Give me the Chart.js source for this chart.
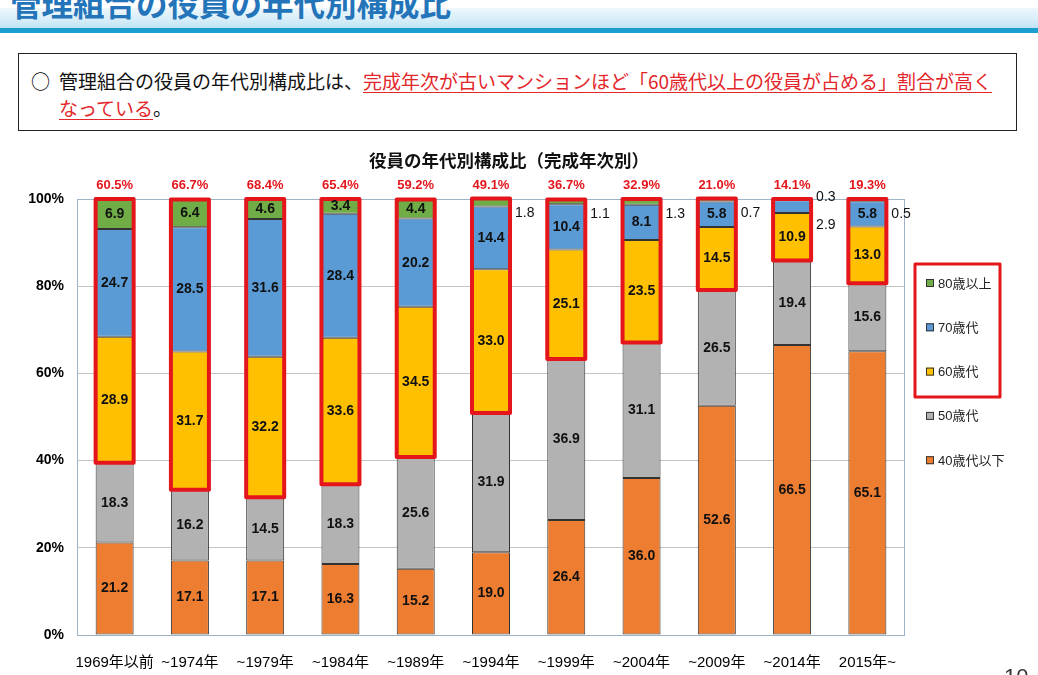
<!DOCTYPE html>
<html lang="ja">
<head>
<meta charset="utf-8">
<title>管理組合の役員の年代別構成比</title>
<script src="https://cdn.jsdelivr.net/npm/chart.js@4.4.1/dist/chart.umd.min.js"></script>
<style>
  html, body { margin: 0; padding: 0; background: #fff; }
  body { width: 1038px; height: 675px; position: relative; overflow: hidden;
         font-family: "Noto Sans CJK JP", "Noto Sans", sans-serif; }
  #band { position: absolute; left: 0; top: 8px; width: 1038px; height: 20px;
          background: linear-gradient(#eef7fc, #d6edf8 60%, #bfe4f4); }
  #bandLine { position: absolute; left: 0; top: 28px; width: 1038px; height: 5px; background: #1a9fd0; }
  #pageTitle { position: absolute; left: 10px; top: -14px; font-size: 31.5px; line-height: 32px;
               font-weight: bold; color: #2474ba; white-space: nowrap; }
  #note { position: absolute; left: 18px; top: 53px; width: 997px; height: 76px; border: 1px solid #222; }
  #bullet { position: absolute; left: 12px; top: 13px; font-size: 19px; line-height: 27px; }
  #noteText { position: absolute; left: 40px; top: 13px; font-size: 19px; line-height: 27px;
              white-space: nowrap; color: #111; }
  .hl { color: #e3262a; text-decoration: underline; text-underline-offset: 3px; }
  #chartTitle { position: absolute; left: 0; top: 149px; width: 1018px; text-align: center;
                font-size: 17.5px; line-height: 22px; font-weight: bold; color: #111; }
  #pageNo { position: absolute; left: 1004px; top: 664px; font-size: 22px; color: #333; font-family: "Liberation Sans", sans-serif; }
  #wrap { position: absolute; left: 0; top: 140px; width: 1038px; height: 535px; }
</style>
</head>
<body>
<div id="band"></div>
<div id="bandLine"></div>
<div id="pageTitle">管理組合の役員の年代別構成比</div>
<div id="note">
  <div id="bullet">○</div>
  <div id="noteText">管理組合の役員の年代別構成比は、<span class="hl">完成年次が古いマンションほど「60歳代以上の役員が占める」割合が高く</span><br><span class="hl">なっている</span>。</div>
</div>
<div id="wrap"><canvas id="ageChart" width="1038" height="535"></canvas></div>
<div id="chartTitle">役員の年代別構成比（完成年次別）</div>
<div id="pageNo">10</div>

<script>
// categories (完成年次)
const years = ['1969年以前', '~1974年', '~1979年', '~1984年', '~1989年', '~1994年',
               '~1999年', '~2004年', '~2009年', '~2014年', '2015年~'];

// series values (%)
const under40 = [21.2, 17.1, 17.1, 16.3, 15.2, 19.0, 26.4, 36.0, 52.6, 66.5, 65.1];
const age50s  = [18.3, 16.2, 14.5, 18.3, 25.6, 31.9, 36.9, 31.1, 26.5, 19.4, 15.6];
const age60s  = [28.9, 31.7, 32.2, 33.6, 34.5, 33.0, 25.1, 23.5, 14.5, 10.9, 13.0];
const age70s  = [24.7, 28.5, 31.6, 28.4, 20.2, 14.4, 10.4, 8.1, 5.8, 2.9, 5.8];
const over80  = [6.9, 6.4, 4.6, 3.4, 4.4, 1.8, 1.1, 1.3, 0.7, 0.3, 0.5];

// share of 60+ printed above each bar
const over60Share = [60.5, 66.7, 68.4, 65.4, 59.2, 49.1, 36.7, 32.9, 21.0, 14.1, 19.3];

const yTicks = [0, 20, 40, 60, 80, 100];

Chart.defaults.font.family = '"Liberation Sans", "Noto Sans CJK JP", sans-serif';
Chart.defaults.color = '#000';

let red = '#e4161c';
let edge = '#333333';

// plot frame drawn over the grid
const framePlugin = {
  id: 'frame',
  beforeDatasetsDraw(chart) {
    const {ctx, chartArea: a} = chart;
    ctx.save();
    ctx.strokeStyle = '#9fb3c8';
    ctx.lineWidth = 1;
    ctx.strokeRect(a.left + 0.5, a.top + 0.5, a.right - a.left - 1, a.bottom - a.top);
    ctx.restore();
  }
};

// value labels, red boxes round the 60+ part, and 60+ share above bars
const labelPlugin = {
  id: 'valueLabels',
  afterDatasetsDraw(chart) {
    const ctx = chart.ctx;
    const area = chart.chartArea;
    const m60 = chart.getDatasetMeta(2);
    const m80 = chart.getDatasetMeta(4);

    ctx.save();
    // red frames
    ctx.strokeStyle = red;
    ctx.lineWidth = 4;
    ctx.lineJoin = 'round';
    m60.data.forEach((bar, j) => {
      const top = m80.data[j].y;
      const bottom = bar.base;
      ctx.strokeRect(bar.x - bar.width / 2, top, bar.width, bottom - top);
    });

    // numbers inside / beside segments
    ctx.textBaseline = 'middle';
    chart.data.datasets.forEach((ds, d) => {
      const meta = chart.getDatasetMeta(d);
      meta.data.forEach((bar, j) => {
        const v = ds.data[j];
        const txt = v.toFixed(1);
        if (v >= 3) {
          ctx.font = 'bold 14px "Liberation Sans", sans-serif';
          ctx.fillStyle = '#111';
          ctx.textAlign = 'center';
          ctx.fillText(txt, bar.x, (bar.y + bar.base) / 2);
        } else {
          ctx.font = '14px "Liberation Sans", sans-serif';
          ctx.fillStyle = '#111';
          ctx.textAlign = 'left';
          const x = bar.x + bar.width / 2 + 5;
          const top = m80.data[j].y;
          const both = age70s[j] < 3;
          let y;
          if (d === 4) y = both ? top - 2 : top + 15;
          else y = top + 26;
          ctx.fillText(txt, x, y);
        }
      });
    });

    // 60+ share
    ctx.font = 'bold 13px "Liberation Sans", sans-serif';
    ctx.fillStyle = red;
    ctx.textAlign = 'center';
    m60.data.forEach((bar, j) => {
      ctx.fillText(over60Share[j].toFixed(1) + '%', bar.x, area.top - 14);
    });
    ctx.restore();
  }
};

// legend at the right, top item = oldest group
const legendPlugin = {
  id: 'sideLegend',
  afterDraw(chart) {
    const ctx = chart.ctx;
    const a = chart.chartArea;
    const x0 = a.right + 21;
    const y0 = a.top + 84;
    const step = 44.3;
    const items = chart.data.datasets.map((ds) => ({label: ds.label, color: ds.backgroundColor})).reverse();
    ctx.save();
    ctx.font = '13px "Liberation Sans", "Noto Sans CJK JP", sans-serif';
    ctx.textBaseline = 'middle';
    ctx.textAlign = 'left';
    items.forEach((it, i) => {
      const y = y0 + i * step;
      ctx.fillStyle = it.color;
      ctx.fillRect(x0, y - 4, 8, 8);
      ctx.strokeStyle = '#333';
      ctx.lineWidth = 1;
      ctx.strokeRect(x0 + 0.5, y - 3.5, 7, 7);
      ctx.fillStyle = '#222';
      ctx.fillText(it.label, x0 + 12, y + 1);
    });
    // red frame round the 60+ groups
    ctx.strokeStyle = red;
    ctx.lineWidth = 3;
    ctx.lineJoin = 'round';
    ctx.strokeRect(a.right + 10, a.top + 65, 85, 133);
    ctx.restore();
  }
};

const ctx = document.getElementById('ageChart');

new Chart(ctx, {
  type: 'bar',
  data: {
    labels: years,
    datasets: [
      { label: '40歳代以下', data: under40, backgroundColor: '#ed7d31' },
      { label: '50歳代', data: age50s, backgroundColor: '#b2b2b2' },
      { label: '60歳代', data: age60s, backgroundColor: '#ffc000' },
      { label: '70歳代', data: age70s, backgroundColor: '#5b9bd5' },
      { label: '80歳以上', data: over80, backgroundColor: '#70ad47' }
    ].map((ds) => Object.assign(ds, {
      borderColor: edge,
      borderWidth: 1,
      borderSkipped: false,
      barPercentage: 0.505,
      categoryPercentage: 1
    }))
  },
  options: {
    responsive: false,
    devicePixelRatio: 1,
    animation: false,
    layout: { padding: { top: 59, right: 133, left: 0, bottom: 0 } },
    scales: {
      x: {
        stacked: true,
        grid: { display: false },
        border: { display: false },
        ticks: { font: { size: 15 }, color: '#000', padding: 11, autoSkip: false, maxRotation: 0 },
        afterFit: (s) => { s.height = 40; }
      },
      y: {
        stacked: true,
        min: 0,
        max: 100,
        afterBuildTicks: (s) => { s.ticks = yTicks.map((v) => ({value: v})); },
        grid: { color: '#c4c4c4', drawTicks: false },
        border: { display: false },
        ticks: {
          font: { size: 14, weight: 'bold' },
          color: '#000',
          padding: 13,
          callback: (v) => v + '%'
        },
        afterFit: (s) => { s.width = 77; }
      }
    },
    plugins: {
      legend: { display: false },
      title: { display: false },
      tooltip: { enabled: false }
    }
  },
  plugins: [framePlugin, labelPlugin, legendPlugin]
});
</script>
</body>
</html>
